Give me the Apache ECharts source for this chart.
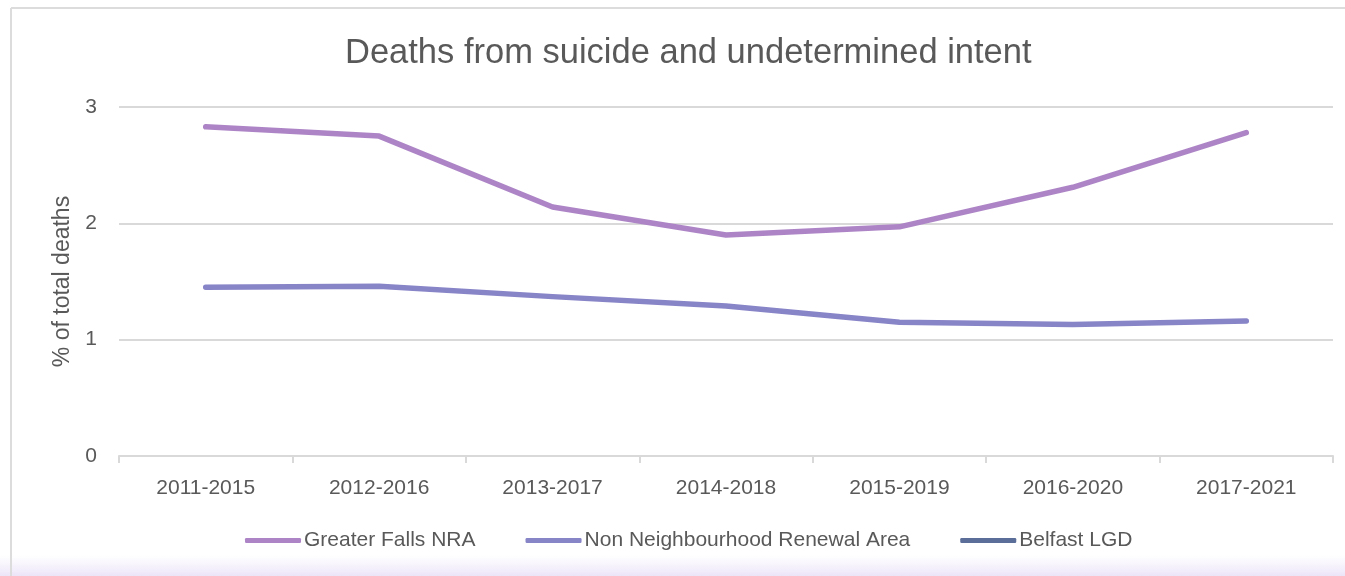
<!DOCTYPE html>
<html>
<head>
<meta charset="utf-8">
<script src="https://cdn.jsdelivr.net/npm/echarts@6/dist/echarts.min.js"></script>
<style>
html,body{margin:0;padding:0;background:#fff;}
#c{width:1345px;height:576px;}
</style>
</head>
<body>
<div id="c"></div>
<script>
const categories = ['2011-2015','2012-2016','2013-2017','2014-2018','2015-2019','2016-2020','2017-2021'];
const greaterFalls = [2.83, 2.75, 2.14, 1.90, 1.97, 2.31, 2.78];
const nonNRA = [1.45, 1.46, 1.37, 1.29, 1.15, 1.13, 1.16];
const belfastLGD = [null, null, null, null, null, null, null];
const seriesNames = ['Greater Falls NRA', 'Non Neighbourhood Renewal Area', 'Belfast LGD'];
const yTicks = [0, 1, 2, 3];

const FONT = 'Liberation Sans';
const chart = echarts.init(document.getElementById('c'), null, {renderer:'canvas'});
const colors = ['#ad85c6', '#8884c8', '#5b6e99'];
function mkSeries(name, data, color){
  return {
    name: name, type: 'line', data: data, showSymbol: false, symbol: 'none',
    lineStyle: {color: color, width: 5.5, cap: 'round', join: 'round'},
    itemStyle: {color: color},
    z: 3
  };
}
chart.setOption({
  animation: false,
  textStyle: {fontFamily: FONT},
  graphic: [
    {type:'rect', shape:{x:0, y:555, width:1345, height:21}, style:{fill:{type:'linear',x:0,y:0,x2:0,y2:1,colorStops:[{offset:0,color:'rgba(240,234,250,0)'},{offset:1,color:'#ece4f8'}]}}, z:-10, silent:true},
    {type:'line', shape:{x1:11, y1:8, x2:1345, y2:8}, style:{stroke:'#dcdcdc', lineWidth:2}, z:-5, silent:true},
    {type:'line', shape:{x1:11, y1:8, x2:11, y2:576}, style:{stroke:'#dcdcdc', lineWidth:2}, z:-5, silent:true}
  ],
  title: {
    text: 'Deaths from suicide and undetermined intent',
    left: 340, top: 31,
    textStyle: {fontFamily: FONT, fontSize: 34.5, fontWeight: 'normal', color: '#595959'}
  },
  legend: {
    bottom: 20, left: 240,
    itemWidth: 56, itemHeight: 5, itemGap: 50,
    icon: 'roundRect',
    textStyle: {fontFamily: FONT, fontSize: 21, color: '#595959', padding:[0,0,0,-2]},
    data: seriesNames.map((n,i)=>({name:n, itemStyle:{color:colors[i]}}))
  },
  grid: {left: 119, right: 12, top: 107, bottom: 120},
  xAxis: {
    type: 'category', data: categories, boundaryGap: true,
    axisLine: {lineStyle: {color: '#d9d9d9', width: 2}},
    axisTick: {show: true, length: 7, lineStyle: {color: '#d9d9d9', width: 2}},
    axisLabel: {fontFamily: FONT, fontSize: 21, color: '#595959', margin: 22}
  },
  yAxis: {
    type: 'value', min: yTicks[0], max: yTicks[yTicks.length-1], interval: 1,
    name: '% of total deaths', nameLocation: 'middle', nameGap: 45,
    nameTextStyle: {fontFamily: FONT, fontSize: 23, color: '#595959'},
    axisLine: {show: false}, axisTick: {show: false},
    splitLine: {lineStyle: {color: '#d9d9d9', width: 2}},
    axisLabel: {fontFamily: FONT, fontSize: 21, color: '#595959', margin: 22}
  },
  series: [
    mkSeries(seriesNames[0], greaterFalls, colors[0]),
    mkSeries(seriesNames[1], nonNRA, colors[1]),
    mkSeries(seriesNames[2], belfastLGD, colors[2])
  ]
});
</script>
</body>
</html>
